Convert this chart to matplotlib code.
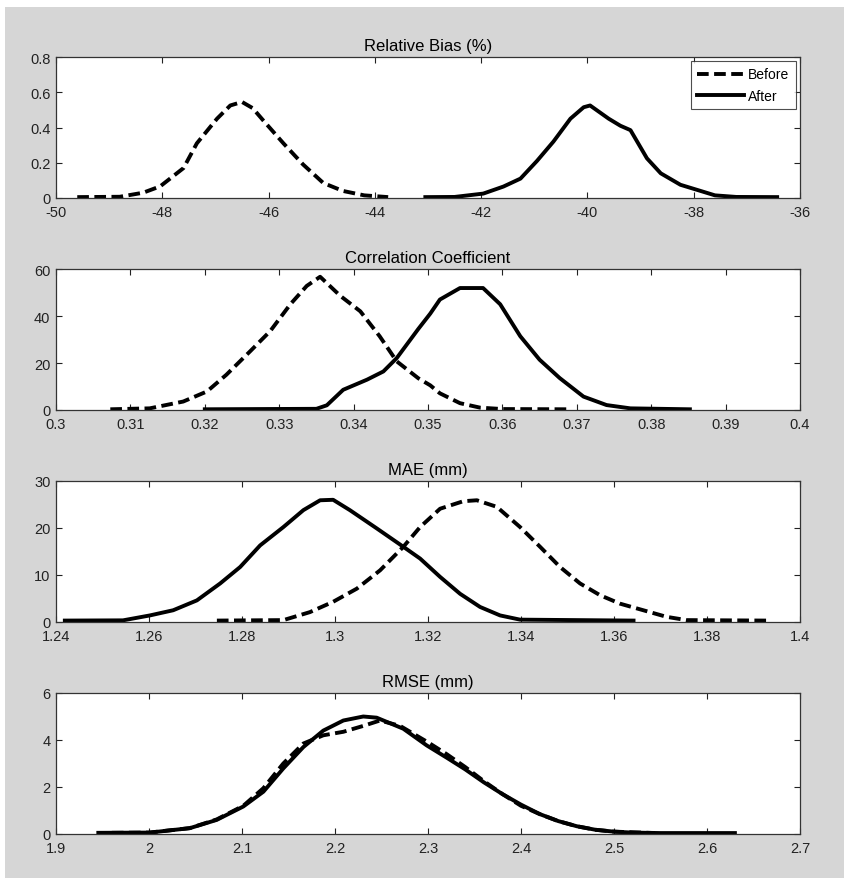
import numpy as np
import matplotlib
matplotlib.use("Agg")
import matplotlib.pyplot as plt
from matplotlib.patches import Rectangle
from matplotlib.ticker import FuncFormatter

plt.rcParams['font.family'] = ['Liberation Sans', 'DejaVu Sans']
plt.rcParams['axes.unicode_minus'] = False

# Relative bias (%)
rb_before_x = [-49.6, -48.8, -48.36, -48.04, -47.6, -47.35, -46.97, -46.72, -46.5,
               -46.3, -46.1, -45.72, -45.35, -44.97, -44.6, -44.2, -43.75]
rb_before_y = [0.005, 0.007, 0.03, 0.066, 0.17, 0.31, 0.45, 0.525, 0.545,
               0.51, 0.44, 0.31, 0.19, 0.085, 0.04, 0.015, 0.005]
rb_after_x = [-43.05, -42.5, -41.96, -41.58, -41.26, -40.95, -40.64, -40.32, -40.07,
              -39.95, -39.6, -39.38, -39.19, -38.88, -38.62, -38.25, -37.87, -37.6,
              -37.2, -36.43]
rb_after_y = [0.005, 0.006, 0.025, 0.065, 0.11, 0.21, 0.32, 0.45, 0.515,
              0.525, 0.45, 0.41, 0.385, 0.225, 0.14, 0.075, 0.04, 0.015,
              0.006, 0.005]

# Correlation coefficient
cc_before_x = [0.3073, 0.3126, 0.3171, 0.3203, 0.3229, 0.3261, 0.3288, 0.3315, 0.3337,
               0.3355, 0.3382, 0.3409, 0.3435, 0.3458, 0.3487, 0.3503, 0.3516, 0.3543,
               0.357, 0.36, 0.3686]
cc_before_y = [0.3, 0.7, 3.6, 7.9, 15, 25, 33.6, 45, 52.8,
               56.7, 48.6, 42, 31.4, 20.7, 13.5, 10.5, 7.1, 2.9,
               1.0, 0.4, 0.3]
cc_after_x = [0.32, 0.335, 0.3364, 0.3386, 0.3418, 0.344, 0.3458, 0.3487, 0.3503,
              0.3516, 0.3543, 0.3574, 0.3597, 0.3624, 0.365, 0.3677, 0.3709, 0.374,
              0.3772, 0.3852]
cc_after_y = [0.3, 0.5, 2, 8.6, 12.9, 16.4, 22.1, 34.5, 41,
              47, 51.9, 51.9, 45, 31.4, 21.4, 13.6, 5.7, 2.1,
              0.7, 0.3]

# MAE (mm)
mae_before_x = [1.2746, 1.2889, 1.2946, 1.2996, 1.3047, 1.3097, 1.3147, 1.3183, 1.3226,
                1.3276, 1.3305, 1.3348, 1.3398, 1.3441, 1.3484, 1.3527, 1.357, 1.3613,
                1.3663, 1.3713, 1.3756, 1.3928]
mae_before_y = [0.3, 0.4, 2.1, 4.3, 7.1, 11, 16, 20.2, 24.1,
                25.7, 25.9, 24.5, 20.2, 16, 11.7, 8.2, 5.7, 3.9,
                2.5, 1.1, 0.4, 0.3]
mae_after_x = [1.2419, 1.2544, 1.2602, 1.2652, 1.2703, 1.2753, 1.2796, 1.2839, 1.2889,
               1.2932, 1.2968, 1.2996, 1.3032, 1.309, 1.3147, 1.3183, 1.3226, 1.3269,
               1.3312, 1.3355, 1.3398, 1.3642]
mae_after_y = [0.3, 0.35, 1.4, 2.5, 4.6, 8.2, 11.7, 16.3, 20.2,
               23.8, 25.9, 26.0, 23.8, 19.9, 16.0, 13.5, 9.6, 6.0,
               3.2, 1.4, 0.5, 0.3]

# RMSE (mm)
rmse_before_x = [1.96, 2.0, 2.044, 2.0728, 2.1014, 2.123, 2.1444, 2.166, 2.1874,
                 2.209, 2.2304, 2.2484, 2.27, 2.3, 2.32, 2.34, 2.36, 2.38,
                 2.4, 2.42, 2.44, 2.46, 2.48, 2.5, 2.544]
rmse_before_y = [0.05, 0.06, 0.25, 0.62, 1.2, 1.95, 3.0, 3.85, 4.2,
                 4.35, 4.6, 4.83, 4.6, 3.9, 3.4, 2.85, 2.25, 1.7,
                 1.2, 0.85, 0.55, 0.33, 0.18, 0.1, 0.04]
rmse_after_x = [1.9455, 2.0011, 2.044, 2.0728, 2.1014, 2.123, 2.1444, 2.166, 2.1874,
                2.209, 2.2304, 2.2448, 2.2734, 2.2986, 2.32, 2.34, 2.36, 2.38,
                2.4, 2.42, 2.44, 2.46, 2.48, 2.5, 2.52, 2.55, 2.63]
rmse_after_y = [0.05, 0.06, 0.25, 0.6, 1.17, 1.8, 2.79, 3.7, 4.4,
                4.83, 5.0, 4.95, 4.48, 3.77, 3.25, 2.75, 2.2, 1.7,
                1.25, 0.85, 0.55, 0.33, 0.18, 0.1, 0.06, 0.04, 0.04]

titles = ['Relative Bias (%)', 'Correlation Coefficient', 'MAE (mm)', 'RMSE (mm)']
xlims = [(-50, -36), (0.3, 0.4), (1.24, 1.4), (1.9, 2.7)]
ylims = [(0, 0.8), (0, 60), (0, 30), (0, 6)]
xticks = [np.arange(-50, -35.9, 2), np.arange(0.3, 0.4001, 0.01),
          np.arange(1.24, 1.4001, 0.02), np.arange(1.9, 2.7001, 0.1)]
yticks = [[0, 0.2, 0.4, 0.6, 0.8], [0, 20, 40, 60], [0, 10, 20, 30], [0, 2, 4, 6]]
before = [(rb_before_x, rb_before_y), (cc_before_x, cc_before_y),
          (mae_before_x, mae_before_y), (rmse_before_x, rmse_before_y)]
after = [(rb_after_x, rb_after_y), (cc_after_x, cc_after_y),
         (mae_after_x, mae_after_y), (rmse_after_x, rmse_after_y)]

W, H = 845, 879
fig = plt.figure(figsize=(W / 100, H / 100), dpi=100, facecolor='white')
fig.patches.append(Rectangle((5 / W, 0), 1, 1 - 8 / H, transform=fig.transFigure,
                             facecolor='#d6d6d6', edgecolor='none', zorder=-10))

tops = [58, 270, 482, 694]
ax_h = 141
left, right = 56, 800
dash = (0, (3.0, 1.4))
fmt = FuncFormatter(lambda v, p: '{:g}'.format(round(v, 6)))

for i in range(4):
    ax = fig.add_axes([left / W, 1 - (tops[i] + ax_h) / H, (right - left) / W, ax_h / H])
    ax.set_facecolor('white')
    bx, by = before[i]
    axx, axy = after[i]
    ax.plot(bx, by, color='black', lw=2.8, linestyle=dash, label='Before')
    ax.plot(axx, axy, color='black', lw=2.8, label='After')
    ax.set_xlim(*xlims[i])
    ax.set_ylim(*ylims[i])
    ax.set_xticks(xticks[i])
    ax.set_yticks(yticks[i])
    ax.xaxis.set_major_formatter(fmt)
    ax.yaxis.set_major_formatter(fmt)
    ax.tick_params(direction='in', top=True, right=True, length=4, width=0.8,
                   labelsize=10.5, colors='#222222')
    ax.tick_params(axis='x', pad=5)
    ax.tick_params(axis='y', pad=4)
    for s in ax.spines.values():
        s.set_color('#333333')
        s.set_linewidth(0.9)
    ax.set_title(titles[i], fontsize=12, pad=5)
    if i == 0:
        leg = ax.legend(loc='upper right', fontsize=10, handlelength=3.4,
                        frameon=True, fancybox=False, borderaxespad=0.3,
                        handletextpad=0.3, borderpad=0.45, labelspacing=0.55)
        leg.get_frame().set_edgecolor('#222222')
        leg.get_frame().set_linewidth(0.8)

fig.savefig('out.png', dpi=100)
